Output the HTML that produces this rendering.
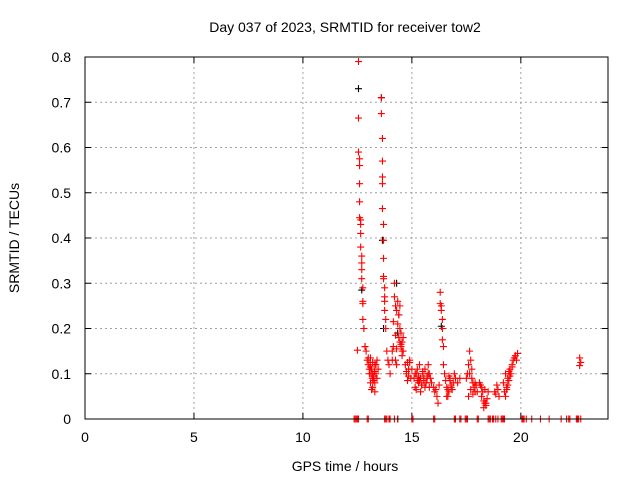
<!DOCTYPE html>
<html><head><meta charset="utf-8">
<style>
body{margin:0;background:#fff;}
svg{display:block;font-family:"Liberation Sans",sans-serif;}
</style></head>
<body>
<svg id="chart" width="640" height="480">
<text x="345" y="32" text-anchor="middle" font-size="14">Day 037 of 2023, SRMTID for receiver tow2</text>
<text x="345" y="471" text-anchor="middle" font-size="14">GPS time / hours</text>
<text transform="translate(19,238) rotate(-90)" text-anchor="middle" font-size="14">SRMTID / TECUs</text>
<g id="grid"></g>
<g id="axes"></g>
<g id="marks"></g>
<rect x="85" y="57" width="523" height="362" fill="none" stroke="#000" stroke-width="1"/>
</svg>
<script>
const xTicks=[0,5,10,15,20];
const yTicks=[0,0.1,0.2,0.3,0.4,0.5,0.6,0.7,0.8];
const yTickLabels=["0","0.1","0.2","0.3","0.4","0.5","0.6","0.7","0.8"];
const redTimes=[12.55,12.55,12.55,12.6,12.6,12.6,12.6,12.6,12.65,12.65,12.65,12.65,12.7,12.7,12.7,12.7,12.75,12.75,12.75,12.75,12.8,12.8,12.85,12.85,12.5,12.9,
12.95,13.0,13.05,13.1,13.1,13.15,13.2,13.2,13.25,13.3,13.3,13.35,13.4,13.4,13.45,13.0,13.1,13.2,13.3,13.15,13.25,13.05,13.35,13.12,13.22,13.28,13.08,13.18,
13.6,13.6,13.65,13.65,13.65,13.65,13.65,13.7,13.7,13.7,13.7,13.7,13.75,13.75,13.75,13.75,13.8,13.8,13.85,13.9,13.95,
14.0,14.1,14.1,14.15,14.2,14.2,14.25,14.25,14.3,14.3,14.35,14.35,14.4,14.4,14.45,14.45,14.5,14.5,14.55,14.55,14.6,14.6,14.15,14.25,14.3,14.4,14.45,14.5,14.55,
14.7,14.75,14.8,14.85,14.9,14.95,15.0,14.8,14.9,14.75,14.85,
15.1,15.15,15.2,15.25,15.3,15.35,15.4,15.45,15.5,15.55,15.6,15.65,15.7,15.75,15.8,15.85,15.9,15.2,15.3,15.4,15.5,15.6,15.7,15.8,15.25,15.45,15.65,15.15,15.35,15.55,15.75,
16.0,16.05,16.1,16.15,16.2,16.25,16.3,16.3,16.35,16.35,16.4,16.4,16.4,16.45,16.45,16.5,16.55,16.6,16.65,16.7,16.75,16.8,16.85,16.9,16.95,17.0,17.1,17.2,16.6,16.7,16.8,16.65,16.75,
17.5,17.55,17.6,17.65,17.7,17.75,17.8,17.85,17.9,17.95,18.0,17.6,17.7,17.8,17.9,17.75,17.65,
18.1,18.15,18.2,18.25,18.3,18.35,18.4,18.45,18.5,18.2,18.3,18.4,18.35,
18.8,18.85,18.9,18.95,19.0,
19.2,19.25,19.3,19.35,19.4,19.45,19.5,19.55,19.6,19.65,19.7,19.75,19.8,19.85,19.3,19.4,19.5,19.6,19.35,19.45,
22.7,22.75,22.7,
12.35,12.4,12.45,12.5,12.55,12.95,13.0,13.75,13.8,13.85,13.95,14.0,14.2,14.35,15.0,15.05,16.0,16.05,16.95,17.0,17.2,17.25,17.45,17.5,17.55,18.0,18.05,18.5,18.55,18.6,18.7,18.75,18.85,18.95,19.1,19.15,19.2,19.25,20.05,20.1,20.15,20.25,20.5,20.9,21.3,21.85,22.1,22.2,22.25,22.55,22.6,22.65,22.75];
const redValues=[0.79,0.665,0.59,0.575,0.56,0.52,0.48,0.445,0.44,0.43,0.41,0.38,0.36,0.345,0.33,0.31,0.29,0.26,0.255,0.22,0.2,0.2,0.16,0.16,0.152,0.15,
0.13,0.12,0.1,0.08,0.135,0.11,0.07,0.125,0.09,0.06,0.12,0.1,0.13,0.09,0.11,0.135,0.115,0.1,0.08,0.065,0.095,0.11,0.12,0.1,0.085,0.105,0.125,0.09,
0.71,0.675,0.62,0.57,0.535,0.52,0.465,0.43,0.395,0.355,0.315,0.31,0.29,0.27,0.26,0.24,0.22,0.2,0.15,0.13,0.12,
0.1,0.15,0.13,0.16,0.3,0.27,0.25,0.185,0.24,0.12,0.26,0.21,0.23,0.18,0.25,0.2,0.19,0.16,0.17,0.14,0.18,0.15,0.215,0.13,0.155,0.23,0.17,0.165,0.15,
0.12,0.1,0.125,0.11,0.13,0.09,0.11,0.085,0.125,0.105,0.095,
0.09,0.07,0.1,0.11,0.08,0.12,0.09,0.075,0.1,0.085,0.11,0.08,0.095,0.12,0.07,0.09,0.08,0.065,0.095,0.06,0.105,0.07,0.09,0.1,0.085,0.075,0.08,0.1,0.085,0.09,0.1,
0.07,0.06,0.065,0.05,0.035,0.075,0.28,0.255,0.25,0.24,0.22,0.2,0.175,0.16,0.12,0.1,0.085,0.07,0.05,0.06,0.09,0.075,0.065,0.08,0.1,0.09,0.08,0.09,0.05,0.095,0.07,0.065,0.085,
0.09,0.1,0.12,0.15,0.13,0.11,0.08,0.07,0.06,0.075,0.06,0.05,0.065,0.055,0.08,0.09,0.1,
0.08,0.075,0.07,0.06,0.04,0.035,0.03,0.045,0.06,0.05,0.025,0.035,0.065,
0.06,0.055,0.075,0.065,0.05,
0.08,0.06,0.1,0.07,0.09,0.085,0.11,0.1,0.12,0.13,0.135,0.14,0.13,0.145,0.05,0.075,0.095,0.115,0.065,0.105,
0.135,0.125,0.118,
0,0,0,0,0,0,0,0,0,0,0,0,0,0,0,0,0,0,0,0,0,0,0,0,0,0,0,0,0,0,0,0,0,0,0,0,0,0,0,0,0,0,0,0,0,0,0,0,0,0,0,0,0];
const blackTimes=[12.55,12.7,13.6,13.65,13.7,14.3,14.35,16.35,14.35];
const blackValues=[0.73,0.285,0.71,0.395,0.2,0.3,0.19,0.205,0];
const NS='http://www.w3.org/2000/svg';
const X=t=>85+t*(523/24);
const Y=v=>419-v*(362/0.8);
const grid=document.getElementById('grid'),axes=document.getElementById('axes'),marks=document.getElementById('marks');
function mk(tag,attrs,parent){const e=document.createElementNS(NS,tag);for(const k in attrs)e.setAttribute(k,attrs[k]);parent.appendChild(e);return e;}
xTicks.forEach(t=>{
  if(t>0){const g=mk('line',{x1:X(t),x2:X(t),y1:57,y2:419,stroke:'#a0a0a0','stroke-dasharray':'2,3'},grid);
  
  }
  mk('line',{x1:X(t),x2:X(t),y1:419,y2:413,stroke:'#000'},axes);
  mk('line',{x1:X(t),x2:X(t),y1:57,y2:63,stroke:'#000'},axes);
  const l=mk('text',{x:X(t),y:442,'text-anchor':'middle','font-size':'14'},axes);l.textContent=t;
  
  
});
yTicks.forEach((v,i)=>{
  if(v>0&&v<0.8){const g=mk('line',{x1:85,x2:608,y1:Y(v),y2:Y(v),stroke:'#a0a0a0','stroke-dasharray':'2,3'},grid);
  
  }
  mk('line',{x1:85,x2:91,y1:Y(v),y2:Y(v),stroke:'#000'},axes);
  mk('line',{x1:608,x2:602,y1:Y(v),y2:Y(v),stroke:'#000'},axes);
  const l=mk('text',{x:71,y:Y(v)+5,'text-anchor':'end','font-size':'14'},axes);l.textContent=yTickLabels[i];
  
  
});
function plus(t,v,c){const x=X(t),y=Y(v);
  const p=mk('path',{d:`M${x-3.5},${y}h7M${x},${y-3.5}v7`,stroke:c,'stroke-width':'1.1',fill:'none'},marks);
  
  }
blackTimes.forEach((t,i)=>plus(t,blackValues[i],'#000'));
redTimes.forEach((t,i)=>plus(t,redValues[i],'#f00'));
</script>
</body></html>
